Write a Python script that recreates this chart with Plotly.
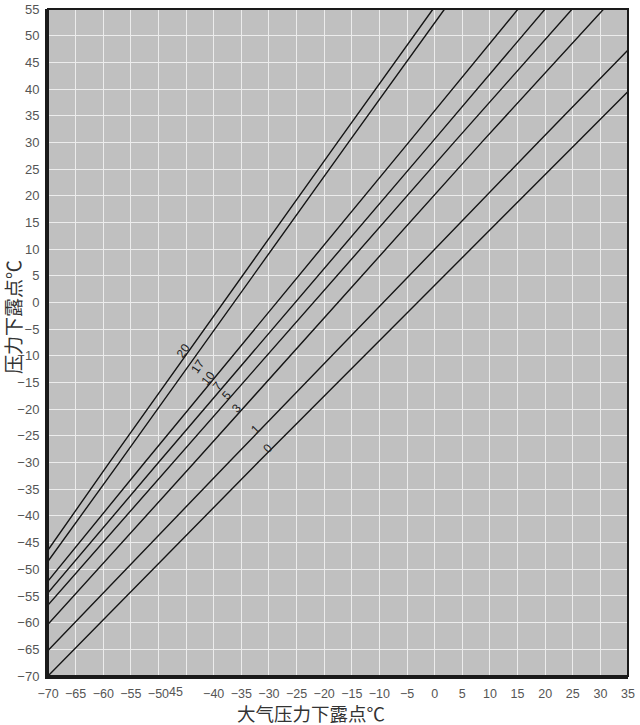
import plotly.graph_objects as go

# Pressure levels (line labels)
pressure_labels = ["20", "17", "10", "7", "5", "3", "1", "0"]

# Atmospheric dew point (x) and pressure dew point (y) points for each line
line_x = {
    "20": [-70, -58.9, -17.6, -0.3],
    "17": [-70, -57.1, -15.6, 1.8],
    "10": [-70, -52.5, -4.7, 15.1],
    "7":  [-70, -50.0, -0.5, 20.0],
    "5":  [-70, -47.4, 3.5, 24.9],
    "3":  [-70, -43.5, 8.5, 30.6],
    "1":  [-70, -37.3, 18.7, 35.0],
    "0":  [-70, -32.0, 25.8, 35.0],
}
line_y = {
    "20": [-46.4, -30, 30, 55],
    "17": [-48.5, -30, 30, 55],
    "10": [-52.2, -30, 30, 55],
    "7":  [-54.4, -30, 30, 55],
    "5":  [-56.7, -30, 30, 55],
    "3":  [-60.3, -30, 30, 55],
    "1":  [-65.2, -30, 30, 47.3],
    "0":  [-70.0, -30, 30, 39.55],
}

# label positions along lines
label_x = [-45.6, -42.8, -41.0, -39.3, -37.6, -35.8, -32.4, -30.2]
label_y = [-9.0, -11.95, -14.1, -15.66, -17.33, -19.8, -23.7, -27.2]
label_angle = [-56, -56, -51, -50, -48, -49, -46, -46]

x_ticks = list(range(-70, 40, 5))
y_ticks = list(range(-70, 60, 5))

def fmt(v):
    return ("\u2212" + str(-v)) if v < 0 else str(v)

x_ticktext = ["" if v == -45 else fmt(v) for v in x_ticks]
y_ticktext = [fmt(v) for v in y_ticks]

fig = go.Figure()
for name in pressure_labels:
    fig.add_trace(go.Scatter(
        x=line_x[name], y=line_y[name], mode="lines",
        line=dict(color="#151515", width=1.4), name=name, showlegend=False,
        hoverinfo="skip"))

for t, lx, ly, ang in zip(pressure_labels, label_x, label_y, label_angle):
    fig.add_annotation(x=lx, y=ly, text=t, showarrow=False, textangle=ang,
                       font=dict(family="Liberation Sans", size=12, color="#222"))

# misplaced "45" tick label as in the original
fig.add_annotation(x=-45, y=0, xref="x", yref="paper", text="45", showarrow=False,
                   yanchor="top", xshift=-10, yshift=-7,
                   font=dict(family="Liberation Sans", size=12.5, color="#555"))

# axis titles
fig.add_annotation(xref="paper", yref="paper", x=(311 - 48) / 580, y=-(713 - 675.7) / 674,
                   text="大气压力下露点℃", showarrow=False, xanchor="center", yanchor="middle",
                   font=dict(family="Noto Sans CJK SC", size=18.5, color="#333"))
fig.add_annotation(xref="paper", yref="paper", x=-(48 - 12) / 580, y=(675.7 - 313) / 674,
                   text="压力下露点℃", showarrow=False, textangle=-90,
                   xanchor="center", yanchor="middle",
                   font=dict(family="Noto Sans CJK SC", size=19, color="#333"))

# frame (top/right thinner)
fig.add_shape(type="rect", xref="x domain", yref="y domain", x0=0, x1=1, y0=0, y1=1,
              line=dict(color="#1a1a1a", width=2), layer="above")

fig.update_xaxes(range=[-70, 35], tickvals=x_ticks, ticktext=x_ticktext,
                 showgrid=True, gridcolor="#ececec", gridwidth=1,
                 zeroline=False, showline=True, linecolor="#1a1a1a", linewidth=3,
                 ticks="", ticklabelstandoff=4, ticklabeloverflow="allow",
                 tickfont=dict(family="Liberation Sans", size=12.5, color="#555"))
fig.update_yaxes(range=[-70, 55], tickvals=y_ticks, ticktext=y_ticktext,
                 showgrid=True, gridcolor="#ececec", gridwidth=1,
                 zeroline=False, showline=True, linecolor="#1a1a1a", linewidth=3,
                 ticks="", ticklabelstandoff=3, ticklabeloverflow="allow",
                 tickfont=dict(family="Liberation Sans", size=13, color="#555"))

fig.update_layout(width=640, height=725, margin=dict(l=48, r=12, t=2, b=49),
                  plot_bgcolor="#c0c0c0", paper_bgcolor="white", showlegend=False)

fig.write_html("out.html", config={"displayModeBar": False},
               post_script="document.body.style.margin='0';")
